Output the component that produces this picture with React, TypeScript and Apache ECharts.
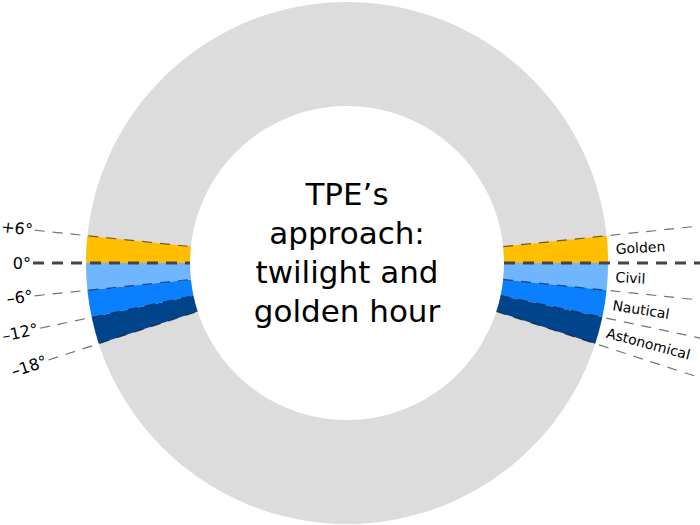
import React, { useEffect, useRef } from 'react';
import * as echarts from 'echarts';

// sun elevation ticks (degrees) and the bands between them
const degreeTicks = [6, 0, -6, -12, -18];
const degreeLabels = ['+6°', '0°', '–6°', '–12°', '–18°'];
const bandNames = ['Golden', 'Civil', 'Nautical', 'Astonomical'];
const bandColors = ['#FFBF00', '#70B6FF', '#0A80FF', '#00458C'];
const titleLines = ['TPE’s', 'approach:', 'twilight and', 'golden hour'];

const CX = 347;
const CY = 263;
const R_IN = 157;
const R_OUT = 261;
const R_LEFT_END = 314;
const R_RIGHT_END = 440;
const R_DEG_LABEL = 316;
const R_BAND_LABEL = 269;
const FONT = '"DejaVu Sans", Verdana, sans-serif';

// polar angle (counter-clockwise from east) for each side of the dial
const rightAngle = (d: number) => d;
const leftAngle = (d: number) => 180 - d;

const App: React.FC = () => {
  const chartRef = useRef<HTMLDivElement>(null);

  useEffect(() => {
    if (!chartRef.current) return;
    const chart = echarts.init(chartRef.current, undefined, { renderer: 'svg' });

    const top = degreeTicks[0];
    const bottom = degreeTicks[degreeTicks.length - 1];
    const bandItems = bandNames.map((name, i) => ({
      name,
      value: degreeTicks[i] - degreeTicks[i + 1],
      itemStyle: { color: bandColors[i] },
    }));
    const pieData = [
      ...bandItems,
      { name: 'gapBottom', value: 180 + 2 * bottom, itemStyle: { color: 'rgba(0,0,0,0)' } },
      ...bandItems.slice().reverse(),
      { name: 'gapTop', value: 180 - 2 * top, itemStyle: { color: 'rgba(0,0,0,0)' } },
    ];

    const lineSeries: any[] = [];
    degreeTicks.forEach((d) => {
      const isZero = d === 0;
      const lineStyle = isZero
        ? { type: [11, 8], width: 3, color: '#444' }
        : { type: [10, 8], width: 1.2, color: 'rgba(0,0,0,0.55)' };
      lineSeries.push({
        type: 'line',
        coordinateSystem: 'polar',
        symbol: 'none',
        silent: true,
        clip: false,
        lineStyle,
        data: [[R_LEFT_END, leftAngle(d)], [R_IN, leftAngle(d)]],
      });
      lineSeries.push({
        type: 'line',
        coordinateSystem: 'polar',
        symbol: 'none',
        silent: true,
        clip: false,
        lineStyle,
        data: [[R_IN, rightAngle(d)], [R_RIGHT_END, rightAngle(d)]],
      });
    });

    const degreeItems = degreeTicks.map((d, i) => ({
      name: degreeLabels[i],
      value: [R_DEG_LABEL, leftAngle(d)],
      label: { rotate: -d },
    }));
    const bandLabelItems = bandNames.map((name, i) => {
      const mid = (degreeTicks[i] + degreeTicks[i + 1]) / 2;
      return {
        name,
        value: [R_BAND_LABEL, rightAngle(mid)],
        label: { rotate: mid },
      };
    });

    const labelSeries = (data: any[], align: string, fontSize: number) => ({
      type: 'scatter',
      coordinateSystem: 'polar',
      symbolSize: 2,
      itemStyle: { color: 'rgba(0,0,0,0)', opacity: 1 },
      silent: true,
      label: {
        show: true,
        position: 'inside',
        align,
        verticalAlign: 'middle',
        formatter: '{b}',
        fontFamily: FONT,
        fontSize,
        color: '#000',
        opacity: 1,
      },
      data,
    });

    chart.setOption({
      animation: false,
      polar: { center: [CX, CY], radius: 450 },
      angleAxis: {
        type: 'value',
        min: -90,
        max: 270,
        startAngle: 270,
        clockwise: false,
        axisLine: { show: false },
        axisTick: { show: false },
        axisLabel: { show: false },
        splitLine: { show: false },
      },
      radiusAxis: {
        type: 'value',
        min: 0,
        max: 450,
        axisLine: { show: false },
        axisTick: { show: false },
        axisLabel: { show: false },
        splitLine: { show: false },
      },
      series: [
        {
          type: 'pie',
          center: [CX, CY],
          radius: [R_IN, R_OUT],
          silent: true,
          label: { show: false },
          labelLine: { show: false },
          data: [{ name: 'ring', value: 1, itemStyle: { color: '#DCDCDC' } }],
        },
        {
          type: 'pie',
          center: [CX, CY],
          radius: [R_IN, R_OUT],
          startAngle: top,
          clockwise: true,
          minAngle: 0,
          silent: true,
          label: { show: false },
          labelLine: { show: false },
          data: pieData,
        },
        ...lineSeries,
        labelSeries(degreeItems, 'right', 16),
        labelSeries(bandLabelItems, 'left', 14),
      ],
      graphic: [
        {
          type: 'text',
          x: CX,
          y: CY - 11,
          silent: true,
          style: {
            text: titleLines.join('\n'),
            fontFamily: FONT,
            fontSize: 31,
            lineHeight: 39,
            align: 'center',
            verticalAlign: 'middle',
            fill: '#000',
          },
        },
      ],
    });

    return () => chart.dispose();
  }, []);

  return (
    <div
      ref={chartRef}
      style={{ position: 'fixed', left: 0, top: 0, width: 700, height: 525, background: '#fff' }}
    />
  );
};

export default App;
